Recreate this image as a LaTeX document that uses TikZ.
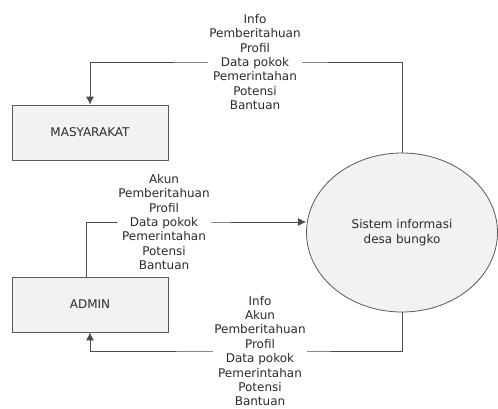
\documentclass[tikz,border=0pt]{standalone}
\usepackage{fontspec}
\setmainfont{DejaVu Sans}
\usetikzlibrary{shapes.geometric, arrows.meta}

\definecolor{boxfill}{HTML}{F2F2F2}
\definecolor{edge}{HTML}{5A5A5A}
\definecolor{ink}{HTML}{2B2B2B}

\tikzset{
  entity/.style={draw=edge, fill=boxfill, line width=0.8pt, minimum width=156pt, minimum height=55pt, text=ink},
  process/.style={ellipse, draw=edge, fill=boxfill, line width=0.8pt, minimum width=191pt, minimum height=159pt, align=center, text=ink},
  flowtext/.style={fill=white, inner sep=1pt, align=center, text=ink},
  flow/.style={->, >={Latex[length=8pt,width=8pt]}, color=ink!85!white, line width=0.8pt}
}

\begin{document}
\begin{tikzpicture}[x=1pt, y=-1pt, font=\fontsize{12}{14.4}\selectfont]
\useasboundingbox (0,0) rectangle (498,408);

% external entities and the process
\node[entity] (masy) at (90,132.5) {MASYARAKAT};
\node[entity] (admin) at (90,304.5) {ADMIN};
\node[process] (sys) at (402,232.5) {Sistem informasi\\desa bungko};

% label positions
\coordinate (toplbl) at (255,62);
\coordinate (midlbl) at (164,222);
\coordinate (botlbl) at (260,351);

% data flows
\draw[flow] (sys.north) |- (toplbl) -| (masy.north);
\draw[flow] ([xshift=-4pt]admin.north) |- (midlbl) -- (sys.west |- midlbl);
\draw[flow] (sys.south) |- (botlbl) -| (admin.south);

% flow labels
\node[flowtext] (lbltop) at (toplbl) {Info\\Pemberitahuan\\Profil\\Data pokok\\Pemerintahan\\Potensi\\Bantuan};
\node[flowtext] (lblmid) at (midlbl) {Akun\\Pemberitahuan\\Profil\\Data pokok\\Pemerintahan\\Potensi\\Bantuan};
\node[flowtext] (lblbot) at (botlbl) {Info\\Akun\\Pemberitahuan\\Profil\\Data pokok\\Pemerintahan\\Potensi\\Bantuan};
\end{tikzpicture}
\end{document}
